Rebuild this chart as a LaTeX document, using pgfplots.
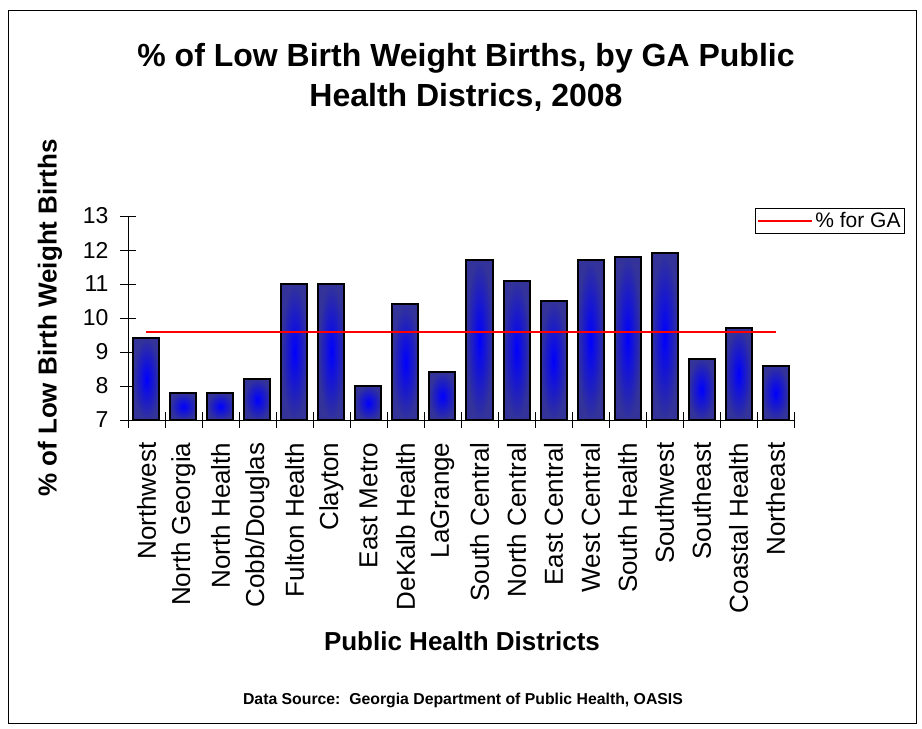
\documentclass[border=0pt]{standalone}
\usepackage{pgfplots}
\pgfplotsset{compat=1.18}
\usepackage{fontspec}
\setmainfont{Liberation Sans}

\definecolor{baredge}{RGB}{51,51,153}
\definecolor{barmid}{RGB}{0,0,255}

% one bar per \addplot, so that each bar gets its own shading
\pgfplotsset{gabar/.style={ybar, bar shift=0pt, bar width=26pt, draw=black,
  line width=2pt, inner color=barmid, outer color=baredge, forget plot}}

\begin{document}
\begin{tikzpicture}[x=1pt,y=1pt]
% page and frame (1pt = 1px of the reference, origin at the axis corner)
\path (-128,420) rectangle (794,-309);
\draw[line width=1pt] (-119,409) rectangle (788,-303);

\begin{axis}[
  at={(0,0)}, anchor=south west,
  scale only axis,
  width=666pt, height=204pt,
  xmin=-0.5, xmax=17.5,
  ymin=7, ymax=13,
  axis x line*=bottom, axis y line*=left,
  axis line style={line width=0.8pt},
  ytick={7,8,...,13},
  xtick={0,...,17},
  xticklabels={Northwest,North Georgia,North Health,Cobb/Douglas,Fulton Health,Clayton,East Metro,DeKalb Health,LaGrange,South Central,North Central,East Central,West Central,South Health,Southwest,Southeast,Coastal Health,Northeast},
  minor xtick={-0.5,0.5,...,17.5},
  x tick style={draw=none},
  minor x tick style={draw=black, line width=0.8pt},
  y tick style={line width=0.8pt, black},
  tick align=center,
  major tick length=16pt, minor tick length=16pt,
  xticklabel style={rotate=90, anchor=east, xshift=-11pt, font=\fontsize{26}{30}\selectfont},
  yticklabel style={font=\fontsize{23}{26}\selectfont, xshift=-8pt},
  /pgf/number format/assume math mode=true,
  ylabel={\textbf{\% of Low Birth Weight Births}},
  ylabel style={font=\fontsize{26}{30}\selectfont, at={(axis description cs:-0.117,0.5)}, anchor=center},
  xlabel={\textbf{Public Health Districts}},
  xlabel style={font=\fontsize{26}{30}\selectfont, at={(axis description cs:0.5015,-1.083)}, anchor=center},
  legend style={at={(axis description cs:0.9414,1.039)}, anchor=north west,
    draw=black, line width=0.8pt, font=\fontsize{21}{24}\selectfont,
    inner sep=2pt, legend cell align=left},
  legend image code/.code={\draw[#1, line width=2pt] (0pt,0pt) -- (54pt,0pt);},
]
\addplot[gabar] coordinates {(0,9.4)};
\addplot[gabar] coordinates {(1,7.8)};
\addplot[gabar] coordinates {(2,7.8)};
\addplot[gabar] coordinates {(3,8.2)};
\addplot[gabar] coordinates {(4,11.0)};
\addplot[gabar] coordinates {(5,11.0)};
\addplot[gabar] coordinates {(6,8.0)};
\addplot[gabar] coordinates {(7,10.4)};
\addplot[gabar] coordinates {(8,8.4)};
\addplot[gabar] coordinates {(9,11.7)};
\addplot[gabar] coordinates {(10,11.1)};
\addplot[gabar] coordinates {(11,10.5)};
\addplot[gabar] coordinates {(12,11.7)};
\addplot[gabar] coordinates {(13,11.8)};
\addplot[gabar] coordinates {(14,11.9)};
\addplot[gabar] coordinates {(15,8.8)};
\addplot[gabar] coordinates {(16,9.7)};
\addplot[gabar] coordinates {(17,8.6)};
\addplot[red, line width=2pt, mark=none]
coordinates {
 (0,9.6) (1,9.6) (2,9.6) (3,9.6) (4,9.6) (5,9.6) (6,9.6) (7,9.6) (8,9.6)
 (9,9.6) (10,9.6) (11,9.6) (12,9.6) (13,9.6) (14,9.6) (15,9.6) (16,9.6) (17,9.6)
};
\addlegendentry{\% for GA}
\end{axis}

\node[font=\bfseries\fontsize{32}{40}\selectfont, align=center] at (338,343)
  {\% of Low Birth Weight Births, by GA Public\\Health Districs, 2008};
\node[font=\bfseries\fontsize{15.8}{18}\selectfont] at (335,-280)
  {Data Source:\ \ Georgia Department of Public Health, OASIS};
\end{tikzpicture}
\end{document}
